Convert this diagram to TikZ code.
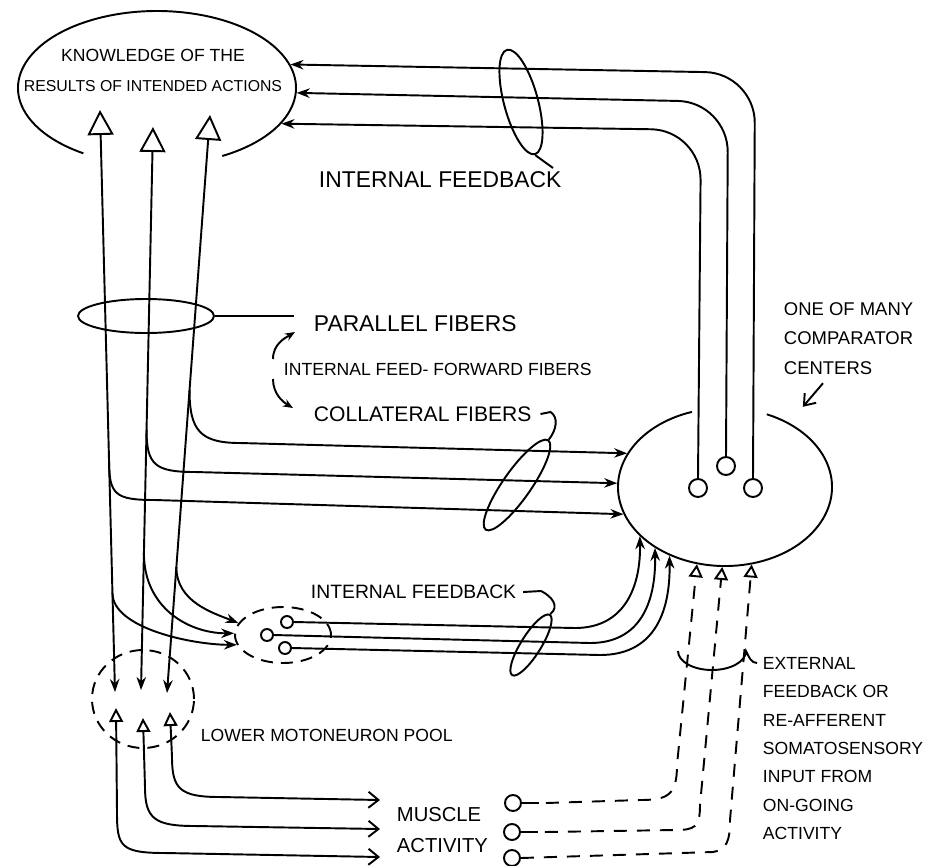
\documentclass[tikz,border=0pt]{standalone}
\usepackage{fontspec}
\setmainfont{Liberation Sans}
\usetikzlibrary{arrows.meta,shapes.geometric,calc}

\begin{document}
\begin{tikzpicture}[x=0.2mm, y=-0.2mm, line width=1.1pt,
  arr/.style = {-{Stealth[length=2.6mm, width=1.9mm]}},
  updown/.style = {{Stealth[length=2.6mm, width=1.9mm]}-{Triangle[open, length=5mm, width=5.2mm]}},
  motor/.style = {{Triangle[open, length=2.8mm, width=2.8mm]}-{Straight Barb[length=2mm, width=3.2mm]}},
  lbl/.style = {inner sep=0, anchor=west},
  ring/.style = {draw, circle, inner sep=0, minimum size=#1},
  bundle/.style = {draw, ellipse, inner sep=0},
  pooldash/.style = {dash pattern=on 2.4mm off 1.6mm},
  extdash/.style = {dash pattern=on 2.6mm off 2mm}]
  \useasboundingbox (0,0) rectangle (945,865);

  % centres
  \node[ellipse, inner sep=0, minimum width=55.6mm, minimum height=30.8mm] (know) at (157,88) {};
  \node[ellipse, inner sep=0, minimum width=42.8mm, minimum height=31.6mm] (comp) at (725,487) {};
  \draw ([shift={(62:139 and 77)}]know.center) arc[start angle=62, end angle=-238, x radius=139, y radius=77];
  \draw ([shift={(-108:107 and 79)}]comp.center) arc[start angle=-108, end angle=-427, x radius=107, y radius=79];
  \node[bundle, pooldash, minimum width=20.4mm, minimum height=19.6mm] (pool) at (143,699) {};
  \node[bundle, pooldash, minimum width=19.2mm, minimum height=11.2mm] (inter) at (283,635) {};

  \node[ring=3.6mm] (cc1) at (698,488) {};
  \node[ring=3.6mm] (cc2) at (726,466) {};
  \node[ring=3.6mm] (cc3) at (753,488) {};
  \node[ring=2.4mm] (s1) at (287,622) {};
  \node[ring=2.4mm] (s2) at (267,635) {};
  \node[ring=2.4mm] (s3) at (285,648) {};
  \node[ring=3.2mm] (e1) at (513,803) {};
  \node[ring=3.2mm] (e2) at (512,832) {};
  \node[ring=3.2mm] (e3) at (512,858) {};

  % labels
  \node[align=center, inner sep=0, font=\fontsize{9}{17}\selectfont] (ktxt) at (153,70) {{\fontsize{10}{17}\selectfont KNOWLEDGE OF THE}\\RESULTS OF INTENDED ACTIONS};
  \node[lbl, font=\fontsize{13}{15}\selectfont] (ifb) at (318,180) {INTERNAL FEEDBACK};
  \node[lbl, font=\fontsize{13}{15}\selectfont] (par) at (313,324) {PARALLEL FIBERS};
  \node[lbl, font=\fontsize{10}{12}\selectfont] (ffw) at (283,369) {INTERNAL FEED- FORWARD FIBERS};
  \node[lbl, font=\fontsize{12}{14}\selectfont] (col) at (313,414) {COLLATERAL FIBERS};
  \node[lbl, font=\fontsize{11}{13}\selectfont] (ifb2) at (310,592) {INTERNAL FEEDBACK};
  \node[lbl, font=\fontsize{10}{12}\selectfont] (lmp) at (200,735) {LOWER MOTONEURON POOL};
  \node[lbl, anchor=north west, align=left, font=\fontsize{11.5}{18.1}\selectfont] (mus) at (396,806) {MUSCLE\\ACTIVITY};
  \node[lbl, anchor=north west, align=left, font=\fontsize{10.5}{16.7}\selectfont] (one) at (783,301.5) {ONE OF MANY\\COMPARATOR\\CENTERS};
  \node[lbl, anchor=north west, align=left, font=\fontsize{10}{16.2}\selectfont] (ext) at (762,656) {EXTERNAL\\FEEDBACK OR\\RE-AFFERENT\\SOMATOSENSORY\\INPUT FROM\\ON-GOING\\ACTIVITY};

  % descending / ascending lines
  \coordinate (kA) at (100,110);
  \coordinate (kB) at (153,127);
  \coordinate (kC) at (210,115);
  \coordinate (pA) at (115,692);
  \coordinate (pB) at (141,690);
  \coordinate (pC) at (167,693);
  \draw[updown] (pA) -- (kA);
  \draw[updown] (pB) -- (kB);
  \draw[updown] (pC) -- (kC);

  \coordinate (colA) at ($(kA)!0.601!(pA)$);
  \coordinate (colB) at ($(kB)!0.538!(pB)$);
  \coordinate (colC) at ($(kC)!0.476!(pC)$);
  \coordinate (intA) at ($(kA)!0.83!(pA)$);
  \coordinate (intB) at ($(kB)!0.757!(pB)$);
  \coordinate (intC) at ($(kC)!0.782!(pC)$);

  % collateral fibers
  \draw[arr] (colC) .. controls +(0,40) and +(-40,0) .. (240,443) -- (comp.161);
  \draw[arr] (colB) .. controls +(0,35) and +(-40,0) .. (195,472) -- (comp.178);
  \draw[arr] (colA) .. controls +(0,35) and +(-40,0) .. (155,500) -- (comp.195);

  \draw[arr] (intC) .. controls +(0,35) and +(-25,-10) .. (inter.165);
  \draw[arr] (intB) .. controls +(0,55) and +(-45,0) .. (inter.178);
  \draw[arr] (intA) .. controls +(0,35) and +(-45,0) .. (inter.192);

  % internal feedback
  \draw[arr] (s1.east) -- (575,628) .. controls +(50,0) and +(1,50) .. (comp.210);
  \draw[arr] (s2.east) -- (590,643) .. controls +(50,0) and +(1,55) .. (comp.221);
  \draw[arr] (s3.east) -- (600,655) .. controls +(52,0) and +(1,60) .. (comp.231);

  \draw[arr, rounded corners=10mm] (cc3.north) -- (755,73) -- (know.10);
  \draw[arr, rounded corners=10mm] (cc2.north) -- (728,102) -- (know.-2);
  \draw[arr, rounded corners=10mm] (cc1.north) -- (701,130) -- (know.-16);

  % muscle activity
  \coordinate (tA) at (116,708);
  \coordinate (tB) at (143,718);
  \coordinate (tC) at (170,712);
  \coordinate (mt1) at (380,800);
  \coordinate (mt2) at (380,829);
  \coordinate (mt3) at (380,857);
  \draw[motor] (tC) -- (172,757) .. controls +(0,32) and +(-40,0) .. (220,797) -- (mt1);
  \draw[motor] (tB) -- (145,787) .. controls +(0,32) and +(-40,0) .. (195,826) -- (mt2);
  \draw[motor] (tA) -- (117,812) .. controls +(0,34) and +(-45,0) .. (165,853) -- (mt3);

  % external feedback
  \draw (e1.east) -- ++(17,0) coordinate (e1s);
  \draw (e2.east) -- ++(17,0) coordinate (e2s);
  \draw[extdash, -{Triangle[open, length=2.6mm, width=2.8mm]}] ([shift={(7,0)}]e1s) -- (640,800) .. controls +(28,0) and +(0,30) .. (677,765) -- (comp.250);
  \draw[extdash, -{Triangle[open, length=2.6mm, width=2.8mm]}] ([shift={(7,0)}]e2s) -- (675,830) .. controls +(20,0) and +(0,22) .. (700,805) -- (comp.268);
  \draw[extdash, -{Triangle[open, length=2.6mm, width=2.8mm]}] (e3.east) -- (713,852) .. controls +(14,-2) and +(0,20) .. (730,820) -- (comp.289);

  % bundles and their pointers
  \node[bundle, rotate=-75, minimum width=21.6mm, minimum height=6.8mm] (fbl) at (521,102) {};
  \node[bundle, rotate=55, minimum width=21.8mm, minimum height=5.6mm] (cfl) at (517,485) {};
  \node[bundle, rotate=58, minimum width=14.2mm, minimum height=4mm] (lfl) at (531,645) {};
  \node[bundle, minimum width=27.2mm, minimum height=6.8mm] (pfl) at (146,316) {};
  \coordinate (fbh) at (553,168);
  \draw (fbl.east) -- (fbh);
  \draw (pfl.east) -- ++(79,0);
  \draw ([shift={(8,0)}]col.east) -- ++(10,-2) .. controls +(8,5) and +(8,-10) .. (cfl.east);
  \draw ([shift={(6,0)}]ifb2.east) -- ++(18,-1) .. controls +(10,5) and +(10,-8) .. (lfl.east);
  \draw (678,651) arc[start angle=-180, end angle=-360, x radius=34, y radius=19] .. controls +(3,6) and +(-6,0) .. ([shift={(-5,7)}]ext.north west);

  \draw[-{Stealth[length=2mm, width=1.6mm]}] ([shift={(-10,-10)}]ffw.west) .. controls +(0,-15) and +(-10,6) .. ([shift={(-18,8)}]par.west);
  \draw[-{Stealth[length=2mm, width=1.6mm]}] ([shift={(-10,10)}]ffw.west) .. controls +(0,15) and +(-10,-6) .. ([shift={(-20,-6)}]col.west);
  \draw[-{Straight Barb[length=2mm, width=3mm]}, shorten >=4.2mm] ([shift={(40,8)}]one.south west) -- (comp.45);
\end{tikzpicture}
\end{document}
